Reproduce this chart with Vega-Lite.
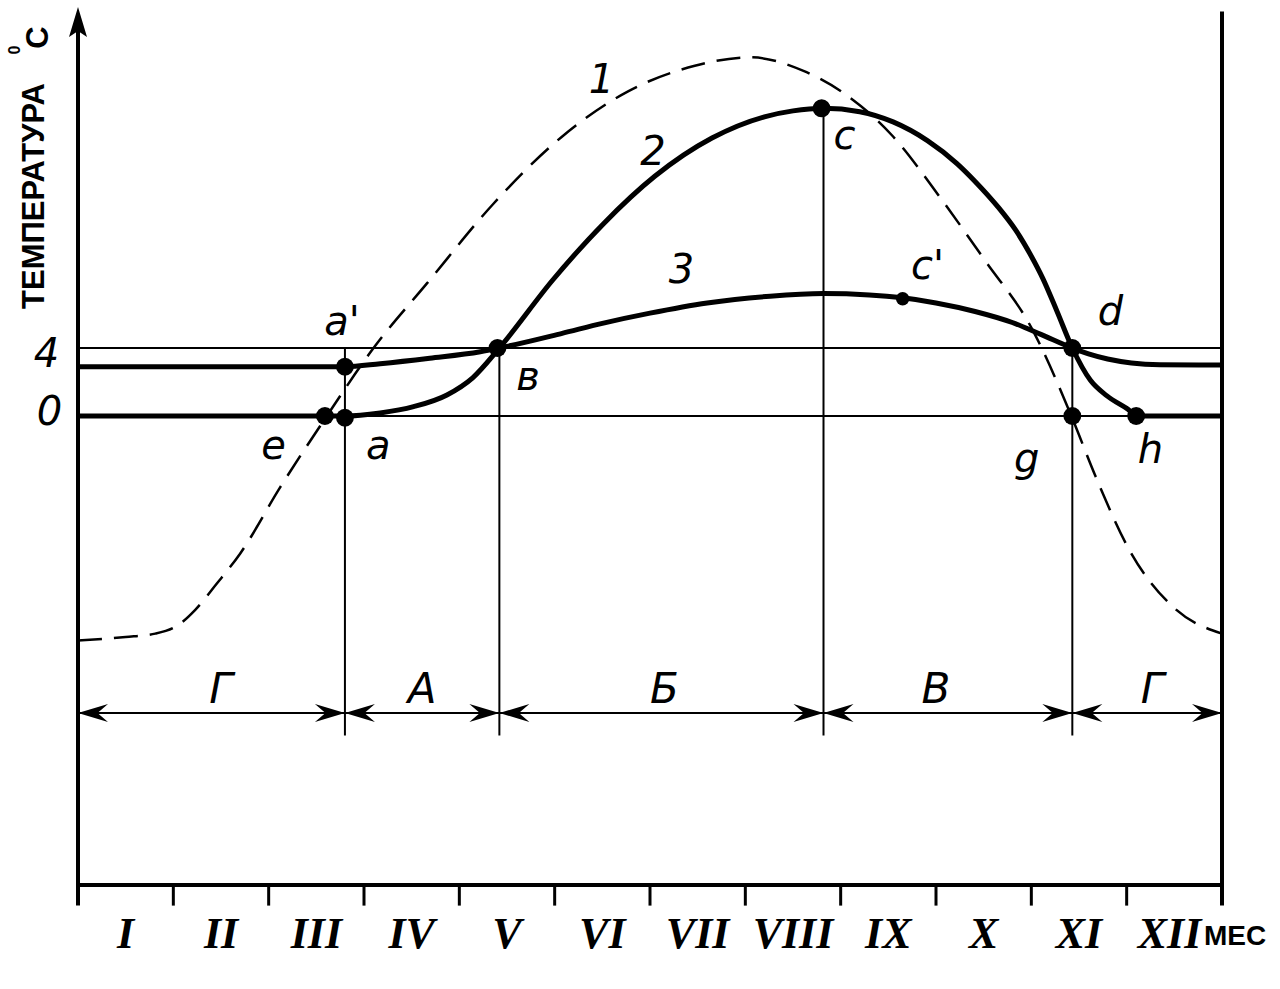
{
  "$schema": "https://vega.github.io/schema/vega-lite/v6.json",
  "width": 1144,
  "height": 885,
  "autosize": {"type": "none"},
  "padding": {"left": 78, "top": 0, "right": 58, "bottom": 104},
  "background": "white",
  "config": {"view": {"stroke": null}},
  "datasets": {
    "thin": [
      {"x": 0, "x2": 12, "y": 0},
      {"x": 0, "x2": 12, "y": 4},
      {"x": 0, "x2": 12, "y": -17.47}
    ],
    "vert": [
      {"x": 2.8, "y": 4, "y2": -18.8},
      {"x": 4.42, "y": 4, "y2": -18.8},
      {"x": 7.82, "y": 18.1, "y2": -18.8},
      {"x": 10.43, "y": 4, "y2": -18.8}
    ],
    "frameV": [
      {"x": 0, "y": -28.8, "y2": 23.6},
      {"x": 12, "y": -28.8, "y2": 23.8}
    ],
    "frameH": [
      {"x": 0, "x2": 12, "y": -27.588}
    ],
    "ticks": [
      {"x": 1, "y": -27.588, "y2": -28.8},
      {"x": 2, "y": -27.588, "y2": -28.8},
      {"x": 3, "y": -27.588, "y2": -28.8},
      {"x": 4, "y": -27.588, "y2": -28.8},
      {"x": 5, "y": -27.588, "y2": -28.8},
      {"x": 6, "y": -27.588, "y2": -28.8},
      {"x": 7, "y": -27.588, "y2": -28.8},
      {"x": 8, "y": -27.588, "y2": -28.8},
      {"x": 9, "y": -27.588, "y2": -28.8},
      {"x": 10, "y": -27.588, "y2": -28.8},
      {"x": 11, "y": -27.588, "y2": -28.8}
    ],
    "c1": [
      {"x": 0, "y": -13.2}, {"x": 0.5, "y": -13.0}, {"x": 0.81, "y": -12.8},
      {"x": 1.05, "y": -12.3}, {"x": 1.23, "y": -11.4}, {"x": 1.45, "y": -9.9},
      {"x": 1.7, "y": -8.1}, {"x": 2.12, "y": -4.2}, {"x": 2.61, "y": 0},
      {"x": 3.1, "y": 4.0}, {"x": 3.66, "y": 7.8}, {"x": 4.36, "y": 12.5},
      {"x": 5.07, "y": 16.4}, {"x": 5.77, "y": 19.1}, {"x": 6.47, "y": 20.6},
      {"x": 7.05, "y": 21.1}, {"x": 7.61, "y": 20.3}, {"x": 8.03, "y": 19.0},
      {"x": 8.54, "y": 16.5}, {"x": 9.05, "y": 12.8}, {"x": 9.52, "y": 9.1},
      {"x": 10.0, "y": 5.2}, {"x": 10.42, "y": 0}, {"x": 10.67, "y": -3.5},
      {"x": 11.03, "y": -7.9}, {"x": 11.5, "y": -11.3}, {"x": 12, "y": -12.8}
    ],
    "c23": [
      {"c": 2, "x": 0, "y": 0}, {"c": 2, "x": 2.8, "y": 0}, {"c": 2, "x": 3.17, "y": 0.18},
      {"c": 2, "x": 3.52, "y": 0.55}, {"c": 2, "x": 3.87, "y": 1.24}, {"c": 2, "x": 4.14, "y": 2.25},
      {"c": 2, "x": 4.42, "y": 4.0}, {"c": 2, "x": 4.98, "y": 8.0}, {"c": 2, "x": 5.51, "y": 11.3},
      {"c": 2, "x": 6.05, "y": 14.1}, {"c": 2, "x": 6.65, "y": 16.35}, {"c": 2, "x": 7.2, "y": 17.6},
      {"c": 2, "x": 7.5, "y": 17.95}, {"c": 2, "x": 7.82, "y": 18.1}, {"c": 2, "x": 8.2, "y": 17.9},
      {"c": 2, "x": 8.55, "y": 17.3}, {"c": 2, "x": 8.91, "y": 16.2}, {"c": 2, "x": 9.22, "y": 14.85},
      {"c": 2, "x": 9.41, "y": 13.8}, {"c": 2, "x": 9.65, "y": 12.3}, {"c": 2, "x": 9.84, "y": 10.9},
      {"c": 2, "x": 10.0, "y": 9.4}, {"c": 2, "x": 10.12, "y": 8.1}, {"c": 2, "x": 10.27, "y": 6.15},
      {"c": 2, "x": 10.43, "y": 4.0}, {"c": 2, "x": 10.62, "y": 2.1}, {"c": 2, "x": 10.79, "y": 1.2},
      {"c": 2, "x": 11.0, "y": 0.45}, {"c": 2, "x": 11.12, "y": 0}, {"c": 2, "x": 12, "y": 0},
      {"c": 3, "x": 0, "y": 2.9}, {"c": 3, "x": 2.8, "y": 2.9}, {"c": 3, "x": 3.17, "y": 3.08},
      {"c": 3, "x": 3.69, "y": 3.4}, {"c": 3, "x": 4.22, "y": 3.78}, {"c": 3, "x": 4.42, "y": 4.0},
      {"c": 3, "x": 5.07, "y": 4.85}, {"c": 3, "x": 5.5, "y": 5.45}, {"c": 3, "x": 6.0, "y": 6.05},
      {"c": 3, "x": 6.6, "y": 6.65}, {"c": 3, "x": 7.26, "y": 7.05}, {"c": 3, "x": 7.82, "y": 7.2},
      {"c": 3, "x": 8.3, "y": 7.12}, {"c": 3, "x": 8.65, "y": 6.95}, {"c": 3, "x": 9.0, "y": 6.65},
      {"c": 3, "x": 9.41, "y": 6.15}, {"c": 3, "x": 9.8, "y": 5.5}, {"c": 3, "x": 10.1, "y": 4.8},
      {"c": 3, "x": 10.43, "y": 4.0}, {"c": 3, "x": 10.6, "y": 3.65}, {"c": 3, "x": 10.8, "y": 3.35},
      {"c": 3, "x": 11.05, "y": 3.12}, {"c": 3, "x": 11.35, "y": 3.02}, {"c": 3, "x": 12, "y": 3.0}
    ],
    "dots": [
      {"x": 2.8, "y": 2.9}, {"x": 2.59, "y": 0}, {"x": 2.8, "y": -0.1},
      {"x": 4.4, "y": 4.0}, {"x": 7.8, "y": 18.1}, {"x": 10.43, "y": 4.0},
      {"x": 10.43, "y": 0}, {"x": 11.1, "y": 0}
    ],
    "smalldots": [
      {"x": 8.65, "y": 6.9}
    ],
    "arrR": [
      {"x": 2.8, "y": -17.47}, {"x": 4.42, "y": -17.47}, {"x": 7.82, "y": -17.47},
      {"x": 10.43, "y": -17.47}, {"x": 12, "y": -17.47}
    ],
    "arrL": [
      {"x": 0, "y": -17.47}, {"x": 2.8, "y": -17.47}, {"x": 4.42, "y": -17.47},
      {"x": 7.82, "y": -17.47}, {"x": 10.43, "y": -17.47}
    ],
    "arrU": [
      {"x": 0, "y": 24.06}
    ],
    "lbl": [
      {"x": 5.49, "y": 19.68, "t": "1"},
      {"x": 6.03, "y": 15.5, "t": "2"},
      {"x": 6.33, "y": 8.53, "t": "3"},
      {"x": 2.77, "y": 5.5, "t": "a'"},
      {"x": 2.05, "y": -1.82, "t": "e"},
      {"x": 3.15, "y": -1.82, "t": "a"},
      {"x": 4.72, "y": 2.24, "t": "в"},
      {"x": 8.04, "y": 16.4, "t": "c"},
      {"x": 8.91, "y": 8.77, "t": "c'"},
      {"x": 10.83, "y": 6.07, "t": "d"},
      {"x": 9.95, "y": -2.6, "t": "g"},
      {"x": 11.25, "y": -2.06, "t": "h"},
      {"x": -0.33, "y": 3.6, "t": "4"},
      {"x": -0.3, "y": 0.2, "t": "0"}
    ],
    "seg": [
      {"x": 1.5, "y": -16.1, "t": "Г"},
      {"x": 3.61, "y": -16.1, "t": "А"},
      {"x": 6.15, "y": -16.1, "t": "Б"},
      {"x": 9.0, "y": -16.1, "t": "В"},
      {"x": 11.27, "y": -16.1, "t": "Г"}
    ],
    "months": [
      {"x": 0.5, "y": -30.53, "t": "I"}, {"x": 1.5, "y": -30.53, "t": "II"},
      {"x": 2.5, "y": -30.53, "t": "III"}, {"x": 3.5, "y": -30.53, "t": "IV"},
      {"x": 4.5, "y": -30.53, "t": "V"}, {"x": 5.5, "y": -30.53, "t": "VI"},
      {"x": 6.5, "y": -30.53, "t": "VII"}, {"x": 7.5, "y": -30.53, "t": "VIII"},
      {"x": 8.5, "y": -30.53, "t": "IX"}, {"x": 9.5, "y": -30.53, "t": "X"},
      {"x": 10.5, "y": -30.53, "t": "XI"}, {"x": 11.45, "y": -30.53, "t": "XII"}
    ],
    "mes": [
      {"x": 11.81, "y": -30.65, "t": "МЕС"}
    ],
    "ytitle": [
      {"x": -0.451, "y": 12.94, "t": "ТЕМПЕРАТУРА"},
      {"x": -0.414, "y": 22.26, "t": "C"}
    ],
    "ysup": [
      {"x": -0.66, "y": 21.53, "t": "0"}
    ]
  },
  "encoding": {
    "x": {"field": "x", "type": "quantitative", "scale": {"domain": [0, 12], "nice": false, "zero": false}, "axis": null},
    "y": {"field": "y", "type": "quantitative", "scale": {"domain": [-27.588, 24.471], "nice": false, "zero": false}, "axis": null}
  },
  "layer": [
    {
      "data": {"name": "thin"},
      "mark": {"type": "rule", "color": "black", "strokeWidth": 2},
      "encoding": {"x2": {"field": "x2"}}
    },
    {
      "data": {"name": "vert"},
      "mark": {"type": "rule", "color": "black", "strokeWidth": 2},
      "encoding": {"y2": {"field": "y2"}}
    },
    {
      "data": {"name": "frameV"},
      "mark": {"type": "rule", "color": "black", "strokeWidth": 4},
      "encoding": {"y2": {"field": "y2"}}
    },
    {
      "data": {"name": "frameH"},
      "mark": {"type": "rule", "color": "black", "strokeWidth": 4},
      "encoding": {"x2": {"field": "x2"}}
    },
    {
      "data": {"name": "ticks"},
      "mark": {"type": "rule", "color": "black", "strokeWidth": 3},
      "encoding": {"y2": {"field": "y2"}}
    },
    {
      "data": {"name": "c1"},
      "mark": {"type": "line", "interpolate": "monotone", "color": "black", "strokeWidth": 2.5, "strokeDash": [24, 12]},
      "encoding": {}
    },
    {
      "data": {"name": "c23"},
      "mark": {"type": "line", "interpolate": "monotone", "color": "black", "strokeWidth": 5},
      "encoding": {"detail": {"field": "c", "type": "nominal"}}
    },
    {
      "data": {"name": "dots"},
      "mark": {"type": "point", "shape": "circle", "filled": true, "color": "black", "opacity": 1, "size": 320}
    },
    {
      "data": {"name": "smalldots"},
      "mark": {"type": "point", "shape": "circle", "filled": true, "color": "black", "opacity": 1, "size": 180}
    },
    {
      "data": {"name": "arrR"},
      "mark": {"type": "point", "shape": "M0,0L-2,-0.6L-1.3,0L-2,0.6Z", "filled": true, "color": "black", "opacity": 1, "size": 900}
    },
    {
      "data": {"name": "arrL"},
      "mark": {"type": "point", "shape": "M0,0L2,-0.6L1.3,0L2,0.6Z", "filled": true, "color": "black", "opacity": 1, "size": 900}
    },
    {
      "data": {"name": "arrU"},
      "mark": {"type": "point", "shape": "M0,0L-0.6,2L0,1.6L0.6,2Z", "filled": true, "color": "black", "opacity": 1, "size": 900}
    },
    {
      "data": {"name": "lbl"},
      "mark": {"type": "text", "font": "DejaVu Sans", "fontStyle": "italic", "fontSize": 40, "align": "center", "baseline": "middle", "color": "black"},
      "encoding": {"text": {"field": "t"}}
    },
    {
      "data": {"name": "seg"},
      "mark": {"type": "text", "font": "DejaVu Sans", "fontStyle": "italic", "fontSize": 42, "align": "center", "baseline": "middle", "color": "black"},
      "encoding": {"text": {"field": "t"}}
    },
    {
      "data": {"name": "months"},
      "mark": {"type": "text", "font": "Liberation Serif", "fontStyle": "italic", "fontWeight": "bold", "fontSize": 44, "align": "center", "baseline": "middle", "color": "black"},
      "encoding": {"text": {"field": "t"}}
    },
    {
      "data": {"name": "mes"},
      "mark": {"type": "text", "font": "Liberation Sans", "fontWeight": "bold", "fontSize": 28, "align": "left", "baseline": "middle", "color": "black"},
      "encoding": {"text": {"field": "t"}}
    },
    {
      "data": {"name": "ytitle"},
      "mark": {"type": "text", "font": "Liberation Sans", "fontWeight": "bold", "fontSize": 31, "angle": 270, "align": "center", "baseline": "middle", "color": "black"},
      "encoding": {"text": {"field": "t"}}
    },
    {
      "data": {"name": "ysup"},
      "mark": {"type": "text", "font": "Liberation Sans", "fontWeight": "bold", "fontSize": 16, "angle": 270, "align": "center", "baseline": "middle", "color": "black"},
      "encoding": {"text": {"field": "t"}}
    }
  ]
}
